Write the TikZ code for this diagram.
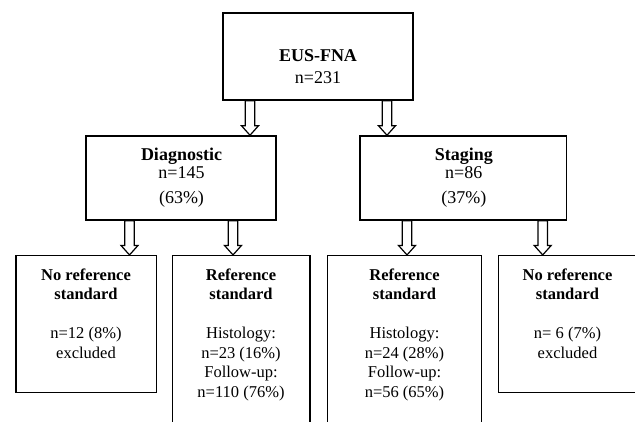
\documentclass[tikz,border=0pt]{standalone}
\usepackage{fontspec}
\setmainfont{Liberation Serif}
\usetikzlibrary{calc}
\pgfdeclarelayer{bg}
\pgfdeclarelayer{paper}
\pgfsetlayers{paper,bg,main}
\tikzset{
  box/.style={draw=black, line width=1.5pt, rectangle, inner sep=0pt},
  txt/.style={inner sep=0pt, anchor=base},
  bigfont/.style={font=\fontsize{18}{21.6}\selectfont},
  midfont/.style={font=\fontsize{18}{17.6}\selectfont},
  smallfont/.style={font=\fontsize{16.5}{19.5}\selectfont},
  blockarrow/.style={draw=black, line width=1.2pt, fill=white, line join=miter,
    to path={let \p1=(\tikztostart), \p2=(\tikztotarget) in
      (\x1-4.7pt,\y1) -- (\x1-4.7pt,\y2+9.5pt) -- (\x1-8.5pt,\y2+9.5pt) -- (\x1,\y2)
      -- (\x1+8.5pt,\y2+9.5pt) -- (\x1+4.7pt,\y2+9.5pt) -- (\x1+4.7pt,\y1) -- cycle}}
}
\begin{document}
\begin{tikzpicture}[x=1pt,y=-1pt]
\useasboundingbox (0,0) rectangle (635,421);
\begin{pgfonlayer}{paper}
\fill[white] (0,0) rectangle (635,421);
\end{pgfonlayer}
\clip (0,0) rectangle (635,421);

% boxes
\node[box, minimum width=190pt, minimum height=87pt] (eus) at (318,56.5) {};
\node[box, minimum width=190pt, minimum height=84pt] (diag) at (181,178) {};
\node[box, minimum width=206.7pt, minimum height=84pt] (stag) at (463.3,178) {};
\node[box, minimum width=140.7pt, minimum height=137pt] (b1) at (86.35,324.2) {};
\node[box, minimum width=137.7pt, minimum height=180pt] (b2) at (241.15,345.7) {};
\node[box, minimum width=154.4pt, minimum height=180pt] (b3) at (404.5,345.7) {};
\node[box, minimum width=138.3pt, minimum height=137pt] (b4) at (567.85,324.2) {};

% texts
\node[txt, bigfont] (eust) at (318,61.7)
  {\begin{tabular}[t]{@{}c@{}}\textbf{EUS-FNA}\\n=231\end{tabular}};
\node[txt, midfont] (diagt) at (181.5,160.7)
  {\begin{tabular}[t]{@{}c@{}}\textbf{Diagnostic}\\n=145\\[7.4pt](63\%)\end{tabular}};
\node[txt, midfont] (stagt) at (463.8,160.7)
  {\begin{tabular}[t]{@{}c@{}}\textbf{Staging}\\n=86\\[7.4pt](37\%)\end{tabular}};
\node[txt, smallfont] (b1t) at (86,280)
  {\begin{tabular}[t]{@{}c@{}}\textbf{No reference}\\\textbf{standard}\\ \\n=12 (8\%)\\excluded\end{tabular}};
\node[txt, smallfont] (b2t) at (241,280)
  {\begin{tabular}[t]{@{}c@{}}\textbf{Reference}\\\textbf{standard}\\ \\Histology:\\n=23 (16\%)\\Follow-up:\\n=110 (76\%)\end{tabular}};
\node[txt, smallfont] (b3t) at (404.5,280)
  {\begin{tabular}[t]{@{}c@{}}\textbf{Reference}\\\textbf{standard}\\ \\Histology:\\n=24 (28\%)\\Follow-up:\\n=56 (65\%)\end{tabular}};
\node[txt, smallfont] (b4t) at (567.5,280)
  {\begin{tabular}[t]{@{}c@{}}\textbf{No reference}\\\textbf{standard}\\ \\n= 6 (7\%)\\excluded\end{tabular}};

% arrows
\begin{pgfonlayer}{bg}
\draw[blockarrow] ([xshift=-68pt]eus.south) to (diag.north);
\draw[blockarrow] ([xshift=69pt]eus.south) to (stag.north);
\draw[blockarrow] ([xshift=-51.5pt]diag.south) to (b1.north);
\draw[blockarrow] ([xshift=52pt]diag.south) to (b2.north);
\draw[blockarrow] ([xshift=-56.3pt]stag.south) to (b3.north);
\draw[blockarrow] ([xshift=79.4pt]stag.south) to (b4.north);
\end{pgfonlayer}
\end{tikzpicture}
\end{document}
